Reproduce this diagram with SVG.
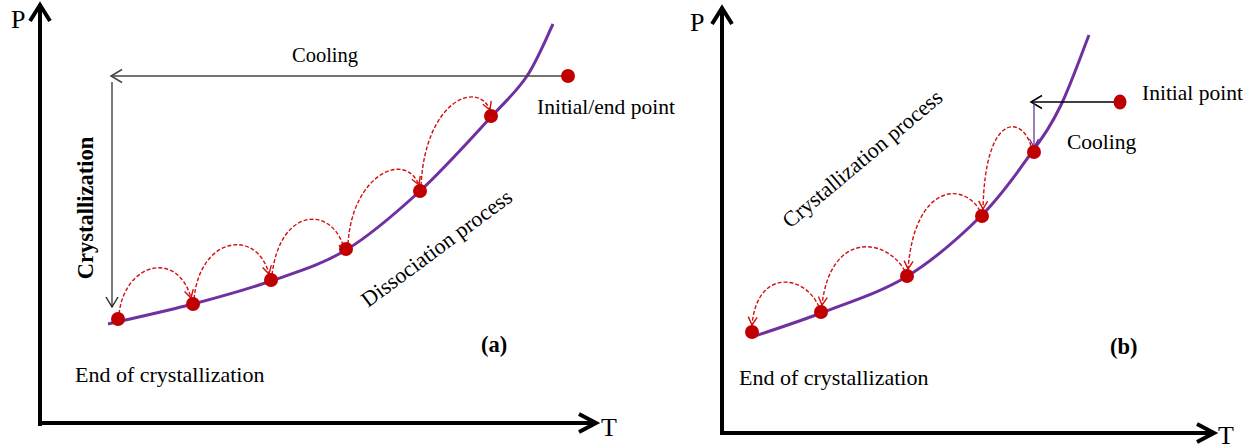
<svg xmlns="http://www.w3.org/2000/svg" width="1255" height="448" viewBox="0 0 1255 448">
<style>
.t{font-family:"Liberation Serif","Times New Roman",serif;font-size:21.5px;fill:#000}
.b{font-weight:bold}
.big{font-size:22.5px}
.axl{font-size:26px}
.ax{fill:none;stroke:#000;stroke-width:4}
.curve{fill:none;stroke:#7030a0;stroke-width:3}
.dot{fill:#c00000}
.arc{fill:none;stroke:#d01010;stroke-width:1.4;stroke-dasharray:4 2;marker-end:url(#mr)}
</style>
<defs>
<marker id="mr" markerUnits="userSpaceOnUse" markerWidth="12" markerHeight="12" viewBox="0 0 12 12" refX="10" refY="6" orient="auto">
<path d="M2,1.5 L10,6 L2,10.5" fill="none" stroke="#d01010" stroke-width="1.4"/>
</marker>
<marker id="mk" markerUnits="userSpaceOnUse" markerWidth="16" markerHeight="16" viewBox="0 0 16 16" refX="14" refY="8" orient="auto">
<path d="M3,1.5 L14,8 L3,14.5" fill="none" stroke="#000" stroke-width="1.5"/>
</marker>
<marker id="mg" markerUnits="userSpaceOnUse" markerWidth="16" markerHeight="16" viewBox="0 0 16 16" refX="14" refY="8" orient="auto">
<path d="M3,1.5 L14,8 L3,14.5" fill="none" stroke="#444" stroke-width="1.5"/>
</marker>
<marker id="mb" markerUnits="userSpaceOnUse" markerWidth="16" markerHeight="16" viewBox="0 0 16 16" refX="14" refY="8" orient="auto">
<path d="M4,2 L14,8 L4,14" fill="none" stroke="#222" stroke-width="1.4"/>
</marker>
<marker id="mp" markerUnits="userSpaceOnUse" markerWidth="12" markerHeight="12" viewBox="0 0 12 12" refX="10" refY="6" orient="auto">
<path d="M2,1.5 L10,6 L2,10.5" fill="none" stroke="#5a2a8a" stroke-width="1.2"/>
</marker>
</defs>

<g id="panel-a-axes">
<path class="ax" d="M40,426 L40,5 M592,423 L38,423"/>
<path class="ax" d="M30,21 L40,5 L50,21"/>
<path class="ax" d="M579,414 L596,423 L579,432"/>
<text class="t axl" x="11" y="28">P</text>
<text class="t axl" x="601" y="436">T</text>
</g>

<g id="panel-a-curve">
<path class="curve" d="M108,324 C122.2,320.7 165.8,311.2 193,304 C220.2,296.8 245.5,290 271,281 C296.5,272 321.2,265 346,250 C370.8,235 395.8,213.2 420,191 C444.2,168.8 473.2,136.2 491,117 C508.8,97.8 516.7,91.5 527,76 C537.3,60.5 548.7,32.7 553,24"/>
</g>

<g id="panel-a-connectors">
<path d="M568,76 L111,76" fill="none" stroke="#444" stroke-width="1.5" marker-end="url(#mg)"/>
<path d="M112,82 L112,307" fill="none" stroke="#222" stroke-width="1.2" marker-end="url(#mb)"/>
<path class="arc" d="M119,314 C125,262 178,250 191,298"/>
<path class="arc" d="M194,299 C200,236 257,228 269,274"/>
<path class="arc" d="M272,275 C280,205 335,205 345,252"/>
<path class="arc" d="M348,244 C352,175 405,150 419,185"/>
<path class="arc" d="M421,186 C425,100 478,80 490,110"/>
</g>

<g id="panel-a-dots">
<circle class="dot" cx="118" cy="319" r="7"/>
<circle class="dot" cx="193" cy="304" r="7"/>
<circle class="dot" cx="271" cy="280" r="7"/>
<circle class="dot" cx="346" cy="249" r="7"/>
<circle class="dot" cx="420" cy="191" r="7"/>
<circle class="dot" cx="491" cy="116" r="7"/>
<circle class="dot" cx="568" cy="76" r="7"/>
</g>

<g id="panel-a-labels">
<text class="t" x="325" y="62" text-anchor="middle" style="font-size:20.5px">Cooling</text>
<text class="t" x="537" y="114">Initial/end point</text>
<text class="t b" text-anchor="middle" transform="translate(93,208) rotate(-90)" style="font-size:22.5px">Crystallization</text>
<text class="t" transform="translate(368,308) rotate(-36.5)" style="font-size:22px">Dissociation process</text>
<text class="t b big" x="481" y="352">(a)</text>
<text class="t" x="75" y="382" style="font-size:22px">End of crystallization</text>
</g>

<g id="panel-b-axes">
<path class="ax" d="M722,435 L722,8 M1210,433 L720,433"/>
<path class="ax" d="M712,24 L722,8 L732,24"/>
<path class="ax" d="M1197,424 L1214,433 L1197,442"/>
<text class="t axl" x="690" y="31">P</text>
<text class="t axl" x="1218" y="444">T</text>
</g>

<g id="panel-b-curve">
<path class="curve" d="M755,336 C766,332.2 795.8,322.8 821,313 C846.2,303.2 879.3,293.2 906,277 C932.7,260.8 960,236.8 981,216 C1002,195.2 1018.7,170.5 1032,152 C1045.3,133.5 1051.5,124.5 1061,105 C1070.5,85.5 1084.3,46.7 1089,35"/>
</g>

<g id="panel-b-connectors">
<path d="M1120,102 L1031,102" fill="none" stroke="#000" stroke-width="1.5" marker-end="url(#mk)"/>
<path d="M1034,102 L1034,147" fill="none" stroke="#5a2a8a" stroke-width="1.2" marker-end="url(#mp)"/>
<path class="arc" d="M1031,146 C1022,115 985,112 983,209"/>
<path class="arc" d="M980,211 C965,182 915,182 908,269"/>
<path class="arc" d="M905,271 C885,236 830,232 822,305"/>
<path class="arc" d="M819,307 C805,274 757,268 752,325"/>
</g>

<g id="panel-b-dots">
<circle class="dot" cx="752" cy="332" r="7"/>
<circle class="dot" cx="821" cy="312" r="7"/>
<circle class="dot" cx="907" cy="276" r="7"/>
<circle class="dot" cx="982" cy="216" r="7"/>
<circle class="dot" cx="1034" cy="152" r="7"/>
<ellipse class="dot" cx="1120" cy="102" rx="6.5" ry="7.5"/>
</g>

<g id="panel-b-labels">
<text class="t" x="1142" y="100">Initial point</text>
<text class="t" x="1067" y="149">Cooling</text>
<text class="t" transform="translate(790,229) rotate(-40)" style="font-size:22px">Crystallization process</text>
<text class="t b big" x="1110" y="354">(b)</text>
<text class="t" x="739" y="385" style="font-size:22px">End of crystallization</text>
</g>
</svg>
